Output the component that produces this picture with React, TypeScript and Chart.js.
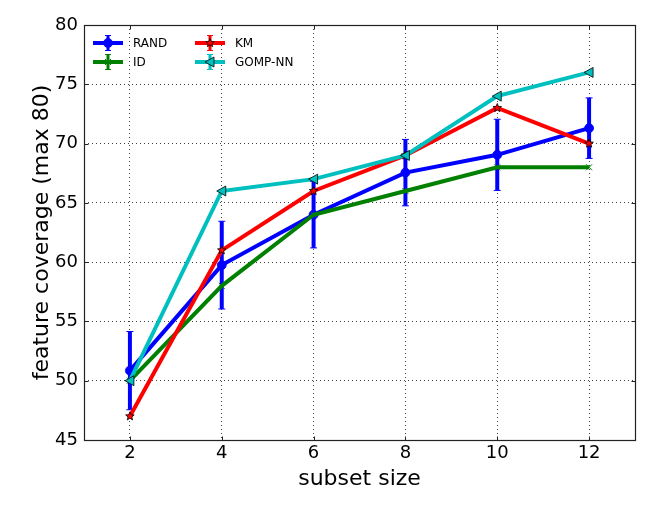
import { useEffect, useRef } from 'react';
import { Chart, registerables } from 'chart.js';

Chart.register(...registerables);

const xValues = [2, 4, 6, 8, 10, 12];
const xTicks = [2, 4, 6, 8, 10, 12];
const randMean = [50.85, 59.75, 64.0, 67.55, 69.05, 71.3];
const randErr = [3.3, 3.7, 2.8, 2.8, 3.0, 2.55];
const idVals = [50, 58, 64, 66, 68, 68];
const kmVals = [47, 61, 66, 69, 73, 70];
const gompVals = [50, 66, 67, 69, 74, 76];

const BLUE = '#0000ff';
const GREEN = '#008000';
const RED = '#ff0000';
const CYAN = '#00bfbf';
const FONT = '"DejaVu Sans", sans-serif';

function drawMarker(ctx: CanvasRenderingContext2D, kind: string, x: number, y: number, color: string) {
  ctx.save();
  ctx.fillStyle = color;
  ctx.strokeStyle = '#000';
  ctx.lineWidth = 0.8;
  ctx.setLineDash([]);
  if (kind === 'circle') {
    ctx.beginPath();
    ctx.arc(x, y, 4.5, 0, Math.PI * 2);
    ctx.fill();
    ctx.strokeStyle = BLUE;
    ctx.stroke();
  } else if (kind === 'x') {
    ctx.strokeStyle = color;
    ctx.lineWidth = 1;
    ctx.beginPath();
    ctx.moveTo(x - 3, y - 3); ctx.lineTo(x + 3, y + 3);
    ctx.moveTo(x - 3, y + 3); ctx.lineTo(x + 3, y - 3);
    ctx.stroke();
  } else if (kind === 'star') {
    ctx.beginPath();
    for (let i = 0; i < 10; i++) {
      const r = i % 2 === 0 ? 4.5 : 2;
      const a = -Math.PI / 2 + (i * Math.PI) / 5;
      const px = x + r * Math.cos(a);
      const py = y + r * Math.sin(a);
      if (i === 0) ctx.moveTo(px, py); else ctx.lineTo(px, py);
    }
    ctx.closePath();
    ctx.fill();
    ctx.stroke();
  } else if (kind === 'tri') {
    ctx.beginPath();
    ctx.moveTo(x - 5, y);
    ctx.lineTo(x + 4, y - 5);
    ctx.lineTo(x + 4, y + 5);
    ctx.closePath();
    ctx.fill();
    ctx.stroke();
  }
  ctx.restore();
}

const markerKinds = ['circle', 'x', 'star', 'tri'];
const seriesColors = [BLUE, GREEN, RED, CYAN];

const errorBarsPlugin = {
  id: 'errorBars',
  afterDatasetDraw(chart: any, args: any) {
    if (args.index !== 0) return;
    const { ctx, scales } = chart;
    const xs = scales.x, ys = scales.y;
    ctx.save();
    ctx.strokeStyle = BLUE;
    for (let i = 0; i < xValues.length; i++) {
      const px = xs.getPixelForValue(xValues[i]);
      const top = ys.getPixelForValue(randMean[i] + randErr[i]);
      const bot = ys.getPixelForValue(randMean[i] - randErr[i]);
      ctx.lineWidth = 4;
      ctx.beginPath();
      ctx.moveTo(px, top);
      ctx.lineTo(px, bot);
      ctx.stroke();
      ctx.lineWidth = 1;
      ctx.beginPath();
      ctx.moveTo(px - 3.5, top); ctx.lineTo(px + 3.5, top);
      ctx.moveTo(px - 3.5, bot); ctx.lineTo(px + 3.5, bot);
      ctx.stroke();
    }
    ctx.restore();
  },
};

const markersPlugin = {
  id: 'customMarkers',
  afterDatasetDraw(chart: any, args: any) {
    const i = args.index;
    const { scales } = chart;
    const ds = chart.data.datasets[i];
    ds.data.forEach((p: any) => {
      drawMarker(chart.ctx, markerKinds[i], scales.x.getPixelForValue(p.x), scales.y.getPixelForValue(p.y), seriesColors[i]);
    });
  },
};

const frameLegendPlugin = {
  id: 'frameLegend',
  afterDraw(chart: any) {
    const { ctx, chartArea: a, scales } = chart;
    ctx.save();
    ctx.strokeStyle = '#222';
    ctx.lineWidth = 1.2;
    ctx.setLineDash([]);
    const l = Math.round(a.left) + 0.5, r = Math.round(a.right) + 0.5;
    const t = Math.round(a.top) + 0.5, b = Math.round(a.bottom) + 0.5;
    ctx.strokeRect(l, t, r - l, b - t);
    ctx.lineWidth = 1;
    ctx.beginPath();
    xTicks.forEach((v) => {
      const px = Math.round(scales.x.getPixelForValue(v)) + 0.5;
      ctx.moveTo(px, b); ctx.lineTo(px, b - 4);
      ctx.moveTo(px, t); ctx.lineTo(px, t + 4);
    });
    for (let v = 45; v <= 80; v += 5) {
      const py = Math.round(scales.y.getPixelForValue(v)) + 0.5;
      ctx.moveTo(l, py); ctx.lineTo(l + 4, py);
      ctx.moveTo(r, py); ctx.lineTo(r - 4, py);
    }
    ctx.stroke();

    const names = ['RAND', 'ID', 'KM', 'GOMP-NN'];
    const pos = [
      [93, 43], [93, 62], [195, 43], [195, 62],
    ];
    ctx.font = `12px ${FONT}`;
    ctx.textBaseline = 'middle';
    ctx.textAlign = 'left';
    names.forEach((n, i) => {
      const [x0, y0] = pos[i];
      const c = seriesColors[i];
      ctx.strokeStyle = c;
      ctx.lineWidth = 4;
      ctx.beginPath();
      ctx.moveTo(x0, y0); ctx.lineTo(x0 + 30, y0);
      ctx.stroke();
      ctx.lineWidth = 3;
      ctx.beginPath();
      ctx.moveTo(x0 + 15, y0 - 7.5); ctx.lineTo(x0 + 15, y0 + 7.5);
      ctx.stroke();
      ctx.lineWidth = 1;
      ctx.beginPath();
      ctx.moveTo(x0 + 12, y0 - 7.5); ctx.lineTo(x0 + 18, y0 - 7.5);
      ctx.moveTo(x0 + 12, y0 + 7.5); ctx.lineTo(x0 + 18, y0 + 7.5);
      ctx.stroke();
      drawMarker(ctx, markerKinds[i], x0 + 15, y0, c);
      ctx.fillStyle = '#000';
      ctx.fillText(n, x0 + 40, y0 + 1);
    });
    ctx.restore();
  },
};

function toPts(vals: number[]) {
  return xValues.map((x, i) => ({ x, y: vals[i] }));
}

export default function App() {
  const ref = useRef<HTMLCanvasElement | null>(null);
  useEffect(() => {
    document.body.style.margin = '0';
    const canvas = ref.current;
    if (!canvas) return;
    const mk = (label: string, vals: number[], color: string, order: number) => ({
      label,
      data: toPts(vals),
      borderColor: color,
      backgroundColor: color,
      borderWidth: 4,
      pointRadius: 0,
      tension: 0,
      fill: false,
      order,
    });
    const chart = new Chart(canvas, {
      type: 'line',
      data: {
        datasets: [
          mk('RAND', randMean, BLUE, 4),
          mk('ID', idVals, GREEN, 3),
          mk('KM', kmVals, RED, 2),
          mk('GOMP-NN', gompVals, CYAN, 1),
        ],
      },
      options: {
        animation: false,
        responsive: true,
        maintainAspectRatio: false,
        layout: { padding: { top: 25, right: 30, left: 0, bottom: 0 } },
        plugins: { legend: { display: false }, tooltip: { enabled: false } },
        scales: {
          x: {
            type: 'linear',
            min: 1,
            max: 13,
            afterBuildTicks: (s: any) => {
              s.ticks = xTicks.map((v) => ({ value: v }));
            },
            afterFit: (s: any) => {
              s.height = 79;
            },
            ticks: { color: '#000', font: { family: FONT, size: 18 }, padding: 3, maxRotation: 0 },
            grid: { color: 'rgba(0,0,0,0.75)', lineWidth: 1, drawTicks: false },
            border: { display: false, dash: [1, 3] },
            title: {
              display: true,
              text: 'subset size',
              color: '#000',
              font: { family: FONT, size: 22 },
              padding: { top: 27, bottom: 27 },
            },
          },
          y: {
            type: 'linear',
            min: 45,
            max: 80,
            afterFit: (s: any) => {
              s.width = 84;
            },
            ticks: { stepSize: 5, color: '#000', font: { family: FONT, size: 18 }, padding: 6 },
            grid: { color: 'rgba(0,0,0,0.75)', lineWidth: 1, drawTicks: false },
            border: { display: false, dash: [1, 3] },
            title: {
              display: true,
              text: 'feature coverage (max 80)',
              color: '#000',
              font: { family: FONT, size: 22 },
              padding: { top: 29, bottom: 0 },
            },
          },
        },
      },
      plugins: [errorBarsPlugin, markersPlugin, frameLegendPlugin],
    });
    return () => chart.destroy();
  }, []);
  return (
    <div style={{ width: 665, height: 519, position: 'relative' }}>
      <canvas ref={ref} />
    </div>
  );
}
